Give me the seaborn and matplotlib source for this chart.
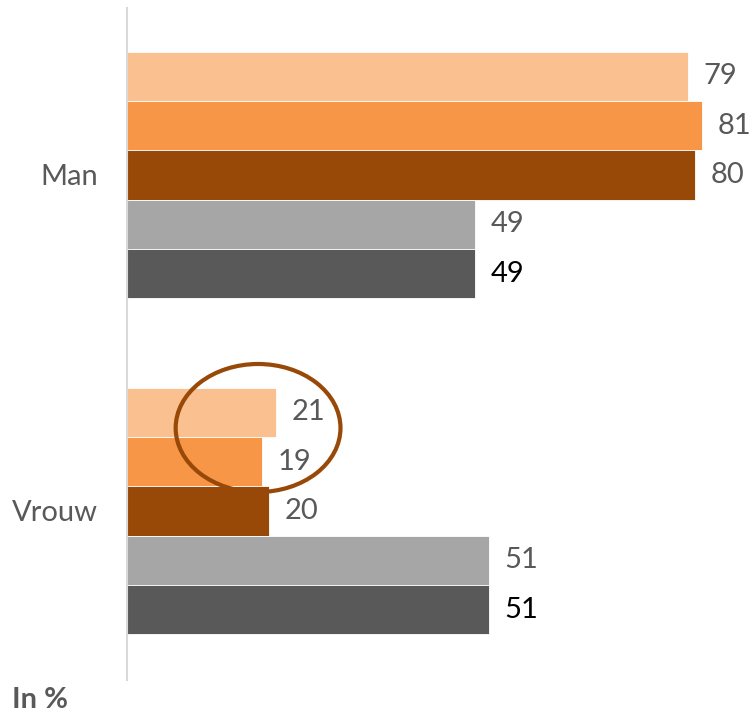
import matplotlib
matplotlib.use("Agg")
import matplotlib.pyplot as plt
import pandas as pd
import seaborn as sns
from matplotlib.patches import Ellipse

# Data
categories = ["Man", "Vrouw"]
series = ["Reeks 1", "Reeks 2", "Reeks 3", "Reeks 4", "Reeks 5"]
values_man = [79, 81, 80, 49, 49]
values_vrouw = [21, 19, 20, 51, 51]

colors = ["#FAC090", "#F79646", "#984807", "#A6A6A6", "#595959"]
label_colors = ["#595959", "#595959", "#595959", "#595959", "#000000"]

rows = []
for s, vm, vv in zip(series, values_man, values_vrouw):
    rows.append({"geslacht": "Man", "reeks": s, "pct": vm})
    rows.append({"geslacht": "Vrouw", "reeks": s, "pct": vv})
df = pd.DataFrame(rows)

sns.set_style("white")
plt.rcParams["font.family"] = ["Lato", "DejaVu Sans"]

fig = plt.figure(figsize=(7.55, 7.15), dpi=100)
ax = fig.add_axes([127 / 755, 35 / 715, 628 / 755, 672 / 715])

sns.barplot(data=df, x="pct", y="geslacht", hue="reeks", order=categories,
            hue_order=series, palette=colors, orient="h", width=0.735,
            saturation=1, edgecolor="white", linewidth=0.6, ax=ax, legend=False)

for cont, lc in zip(ax.containers, label_colors):
    ax.bar_label(cont, padding=11, color=lc, fontsize=21)

ax.set_xlim(0, 88.4)
ax.set_ylim(1.503, -0.497)
ax.set_xlabel("")
ax.set_ylabel("")
ax.set_xticks([])
ax.tick_params(axis="y", length=0, pad=21, labelsize=21, labelcolor="#595959")
for side in ["top", "right", "bottom"]:
    ax.spines[side].set_visible(False)
ax.spines["left"].set_color("#D9D9D9")
ax.spines["left"].set_linewidth(1.5)

# Highlight circle around the female values
ax.add_patch(Ellipse((18.45, 0.753), 23.2, 0.381, fill=False,
                     edgecolor="#984807", linewidth=3, zorder=5))

fig.text(12 / 755, 1 - 700 / 715, "In %", fontsize=21, fontweight="bold",
         color="#595959", va="center", ha="left")

fig.savefig("out.png", dpi=100)
